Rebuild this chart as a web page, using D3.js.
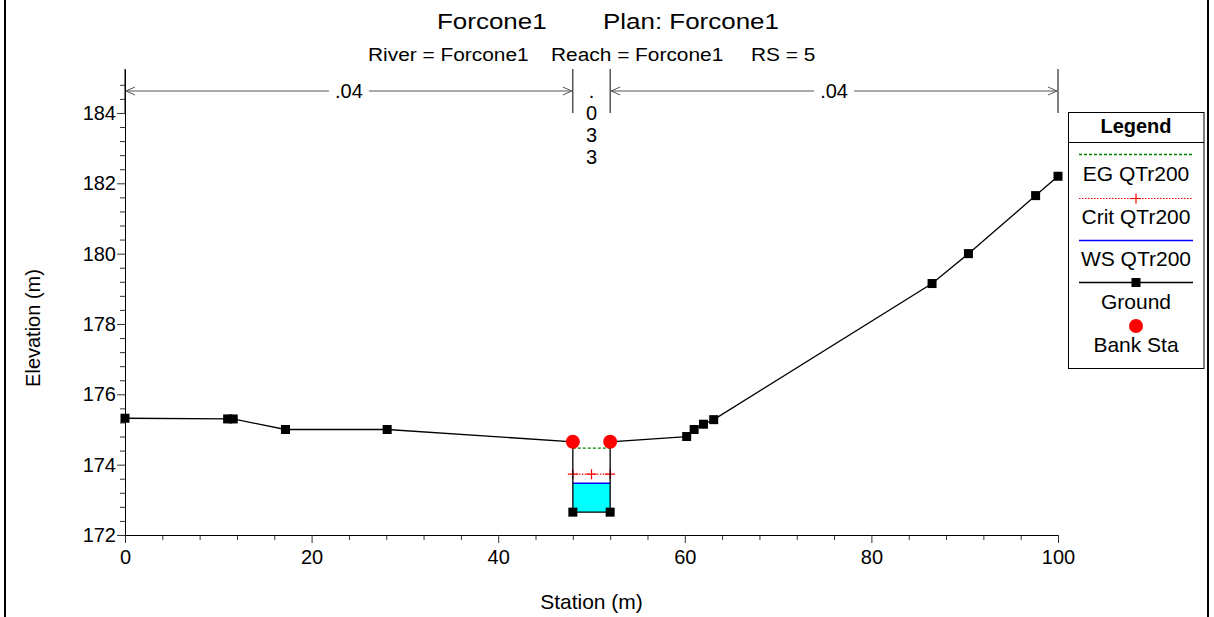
<!DOCTYPE html>
<html>
<head>
<meta charset="utf-8">
<script src="https://d3js.org/d3.v7.min.js"></script>
<style>
  body { margin: 0; background: #fff; }
  text { font-family: Arial, "Liberation Sans", sans-serif; fill: #000; }
</style>
</head>
<body>
<script>
// ground profile
const station   = [0, 11.0, 11.6, 17.2, 28.1, 48.0, 48.0, 52.0, 52.0, 60.2, 61.0, 62.0, 63.1, 86.5, 90.4, 97.6, 100];
const elevation = [175.32, 175.30, 175.30, 175.0, 175.0, 174.65, 172.65, 172.65, 174.65, 174.80, 175.0, 175.15, 175.28, 179.15, 180.0, 181.65, 182.2];

// bank stations
const bankStation = [48, 52];
const bankElev = [174.65, 174.65];

// water surface results (QTr200)
const channelSta = [48, 52];
const wsElev = 173.47;
const critElev = 173.73;
const egElev = 174.47;
const critMarkSta = [48, 50, 52];
const bedElev = 172.65;

// manning's n
const nBreaks = [0, 48, 52, 100];
const nValues = [".04", ".033", ".04"];

// ticks
const xTicks = [0, 20, 40, 60, 80, 100];
const yTicks = [172, 174, 176, 178, 180, 182, 184];

const legendItems = ["EG QTr200", "Crit QTr200", "WS QTr200", "Ground", "Bank Sta"];

const W = 1214, H = 617;
const svg = d3.select("body").append("svg")
  .attr("width", W)
  .attr("height", H);

// frame edges
svg.append("line").attr("x1", 5).attr("x2", 5).attr("y1", 0).attr("y2", H)
  .attr("stroke", "#000").attr("stroke-width", 2);
svg.append("line").attr("x1", 1208).attr("x2", 1208).attr("y1", 0).attr("y2", H)
  .attr("stroke", "#000").attr("stroke-width", 2);

const x = d3.scaleLinear().domain([0, 100]).range([125, 1058]);
const y = d3.scaleLinear().domain([172, 185.25]).range([535, 69]);

// titles (glyphs a bit wider than plain Arial in the original)
function wideText(px, py, size, sx, str) {
  svg.append("text")
    .attr("transform", `translate(${px},${py}) scale(${sx},1)`)
    .attr("font-size", size)
    .text(str);
}
wideText(437, 29, 22, 1.18, "Forcone1");
wideText(603, 29, 22, 1.18, "Plan: Forcone1");
wideText(368, 61, 18, 1.16, "River = Forcone1");
wideText(551, 61, 18, 1.16, "Reach = Forcone1");
wideText(751, 61, 18, 1.16, "RS = 5");

// minor ticks
const xMinor = d3.range(0, 26).filter(i => i % 5 !== 0).map(i => i * 4);
const yMinor = d3.range(0, 33).filter(i => i % 5 !== 0).map(i => 172 + i * 0.4);

svg.append("g")
  .attr("transform", `translate(0,${y(172)})`)
  .call(d3.axisBottom(x).tickValues(xMinor).tickSize(5).tickFormat("").tickSizeOuter(0))
  .call(g => g.select(".domain").remove())
  .selectAll("line").attr("stroke", "#333");

svg.append("g")
  .attr("transform", `translate(${x(0)},0)`)
  .call(d3.axisLeft(y).tickValues(yMinor).tickSize(5).tickFormat("").tickSizeOuter(0))
  .call(g => g.select(".domain").remove())
  .selectAll("line").attr("stroke", "#333");

// x axis
const gx = svg.append("g")
  .attr("transform", `translate(0,${y(172)})`)
  .call(d3.axisBottom(x).tickValues(xTicks).tickSize(8).tickSizeOuter(0).tickFormat(d3.format("d")));
gx.select(".domain").attr("stroke", "#000");
gx.selectAll(".tick line").attr("stroke", "#333");
gx.selectAll(".tick text").attr("font-size", 20).attr("y", 15).attr("dy", "0.71em")
  .attr("font-family", "Arial, 'Liberation Sans', sans-serif").attr("fill", "#000");

// y axis
const gy = svg.append("g")
  .attr("transform", `translate(${x(0)},0)`)
  .call(d3.axisLeft(y).tickValues(yTicks).tickSize(8).tickSizeOuter(0).tickFormat(d3.format("d")));
gy.select(".domain").attr("stroke", "#000");
gy.selectAll(".tick line").attr("stroke", "#333");
gy.selectAll(".tick text").attr("font-size", 20).attr("x", -9)
  .attr("font-family", "Arial, 'Liberation Sans', sans-serif").attr("fill", "#000");

// axis titles
svg.append("text")
  .attr("transform", `translate(40,${(y(172) + y(185.25)) / 2 + 26}) rotate(-90)`)
  .attr("text-anchor", "middle").attr("font-size", 20)
  .text("Elevation (m)");
svg.append("text")
  .attr("x", (x(0) + x(100)) / 2).attr("y", 609)
  .attr("text-anchor", "middle").attr("font-size", 21)
  .text("Station (m)");

// manning's n annotation
const nY = 91;
nBreaks.forEach(s => {
  svg.append("line")
    .attr("x1", x(s)).attr("x2", x(s))
    .attr("y1", y(185.25)).attr("y2", 113)
    .attr("stroke", "#000").attr("stroke-width", 1);
});
const arrowColor = "#555";
function arrowHead(px, dir) {
  // dir = -1 points left, +1 points right
  svg.append("path")
    .attr("d", `M${px - dir * 9},${nY - 4}L${px},${nY}L${px - dir * 9},${nY + 4}`)
    .attr("fill", "none").attr("stroke", arrowColor).attr("stroke-width", 1);
}
nValues.forEach((v, i) => {
  const a = x(nBreaks[i]), b = x(nBreaks[i + 1]);
  if (b - a > 100) {
    const mid = (a + b) / 2;
    const half = 20;
    svg.append("line").attr("x1", a + 1).attr("x2", mid - half).attr("y1", nY).attr("y2", nY)
      .attr("stroke", arrowColor);
    svg.append("line").attr("x1", mid + half).attr("x2", b - 1).attr("y1", nY).attr("y2", nY)
      .attr("stroke", arrowColor);
    arrowHead(a + 1, -1);
    arrowHead(b - 1, 1);
    svg.append("text").attr("x", mid).attr("y", nY + 7)
      .attr("text-anchor", "middle").attr("font-size", 20).text(v);
  } else {
    const mid = (a + b) / 2;
    v.split("").forEach((ch, k) => {
      svg.append("text").attr("x", mid).attr("y", 98 + k * 22)
        .attr("text-anchor", "middle").attr("font-size", 20).text(ch);
    });
  }
});

// water fill
svg.append("rect")
  .attr("x", x(channelSta[0])).attr("y", y(wsElev))
  .attr("width", x(channelSta[1]) - x(channelSta[0]))
  .attr("height", y(bedElev) - y(wsElev))
  .attr("fill", "#00ffff");

// EG line
svg.append("line")
  .attr("x1", x(channelSta[0])).attr("x2", x(channelSta[1]))
  .attr("y1", y(egElev)).attr("y2", y(egElev))
  .attr("stroke", "#008000").attr("stroke-width", 1.3).attr("stroke-dasharray", "3,2");

// Crit line
svg.append("line")
  .attr("x1", x(channelSta[0])).attr("x2", x(channelSta[1]))
  .attr("y1", y(critElev)).attr("y2", y(critElev))
  .attr("stroke", "#ff0000").attr("stroke-width", 1.2).attr("stroke-dasharray", "1.5,1.5");
svg.selectAll(".crit")
  .data(critMarkSta)
  .enter().append("path")
  .attr("class", "crit")
  .attr("d", d => `M${x(d) - 5},${y(critElev)}h10M${x(d)},${y(critElev) - 5}v10`)
  .attr("stroke", "#ff0000").attr("stroke-width", 1.2);

// WS line
svg.append("line")
  .attr("x1", x(channelSta[0])).attr("x2", x(channelSta[1]))
  .attr("y1", y(wsElev)).attr("y2", y(wsElev))
  .attr("stroke", "#0000ff").attr("stroke-width", 1.5);

// ground
const ground = station.map((s, i) => [s, elevation[i]]);
svg.append("path")
  .datum(ground)
  .attr("fill", "none").attr("stroke", "#000").attr("stroke-width", 1.3)
  .attr("d", d3.line().x(d => x(d[0])).y(d => y(d[1])));
svg.selectAll(".gpt")
  .data(ground)
  .enter().append("rect")
  .attr("class", "gpt")
  .attr("x", d => x(d[0]) - 4.5).attr("y", d => y(d[1]) - 4.5)
  .attr("width", 9).attr("height", 9)
  .attr("fill", "#000");

// bank stations
svg.selectAll(".bank")
  .data(bankStation)
  .enter().append("circle")
  .attr("class", "bank")
  .attr("cx", d => x(d)).attr("cy", (d, i) => y(bankElev[i]))
  .attr("r", 7).attr("fill", "#ff0000");

// legend
const lg = svg.append("g");
lg.append("rect").attr("x", 1068.5).attr("y", 112.5).attr("width", 135.5).attr("height", 256)
  .attr("fill", "#fff").attr("stroke", "#000");
lg.append("line").attr("x1", 1068.5).attr("x2", 1204).attr("y1", 142.5).attr("y2", 142.5).attr("stroke", "#000");
lg.append("text").attr("x", 1136).attr("y", 133).attr("text-anchor", "middle")
  .attr("font-size", 20).attr("font-weight", "bold").text("Legend");
const lx1 = 1079, lx2 = 1193, lmid = 1136;
const rowY = [154.5, 198.5, 240.5, 282.5, 326];
const textY = [181, 224, 266, 309, 352];
// EG
lg.append("line").attr("x1", lx1).attr("x2", lx2).attr("y1", rowY[0]).attr("y2", rowY[0])
  .attr("stroke", "#008000").attr("stroke-width", 1.3).attr("stroke-dasharray", "3,2");
// Crit
lg.append("line").attr("x1", lx1).attr("x2", lx2).attr("y1", rowY[1]).attr("y2", rowY[1])
  .attr("stroke", "#ff0000").attr("stroke-width", 1.2).attr("stroke-dasharray", "1.5,1.5");
lg.append("path").attr("d", `M${lmid - 5},${rowY[1]}h10M${lmid},${rowY[1] - 5}v10`)
  .attr("stroke", "#ff0000").attr("stroke-width", 1.2);
// WS
lg.append("line").attr("x1", lx1).attr("x2", lx2).attr("y1", rowY[2]).attr("y2", rowY[2])
  .attr("stroke", "#0000ff").attr("stroke-width", 1.5);
// Ground
lg.append("line").attr("x1", lx1).attr("x2", lx2).attr("y1", rowY[3]).attr("y2", rowY[3])
  .attr("stroke", "#000").attr("stroke-width", 1.3);
lg.append("rect").attr("x", lmid - 4.5).attr("y", rowY[3] - 4.5).attr("width", 9).attr("height", 9).attr("fill", "#000");
// Bank
lg.append("circle").attr("cx", lmid).attr("cy", rowY[4]).attr("r", 7).attr("fill", "#ff0000");

legendItems.forEach((t, i) => {
  lg.append("text").attr("x", lmid).attr("y", textY[i]).attr("text-anchor", "middle")
    .attr("font-size", 21).text(t);
});
</script>
</body>
</html>
